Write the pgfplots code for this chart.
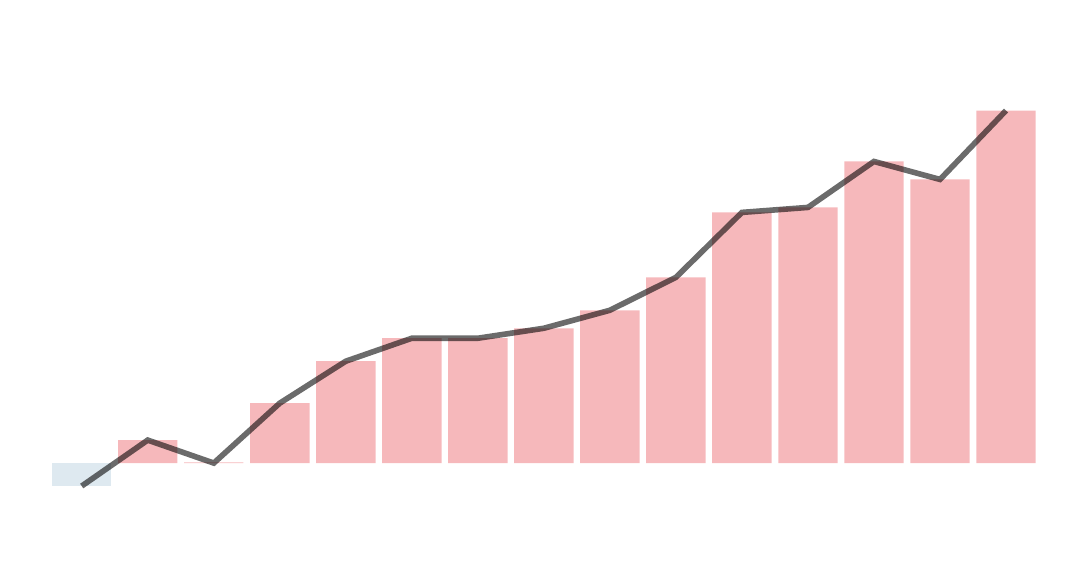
\documentclass[border=0pt]{standalone}
\usepackage{pgfplots}
\pgfplotsset{compat=1.18}
\definecolor{barpos}{HTML}{F6B8BB}
\definecolor{barneg}{HTML}{DEE9F0}
\begin{document}
\begin{tikzpicture}
\begin{axis}[
  scale only axis, width=10.8cm, height=5.8cm,
  xmin=-1.2273, xmax=15.11, ymin=-117, ymax=463,
  axis lines=none, ticks=none, clip=false,
]
\draw[white] (rel axis cs:0,0) rectangle (rel axis cs:1,1);
\addplot[ybar, bar width=0.9, fill=barneg, draw=none] coordinates {(0,-23)};
\addplot[ybar, bar width=0.9, fill=barpos, draw=none] coordinates {
(1,23) (2,0.6) (3,60) (4,102) (5,125) (6,125) (7,135) (8,153) (9,186) (10,251) (11,256) (12,302) (13,284) (14,353)};
\addplot[black, opacity=0.58, line width=1.6pt, mark=none] coordinates {
(0,-23) (1,23) (2,0) (3,60) (4,102) (5,125) (6,125) (7,135) (8,153) (9,186) (10,251) (11,256) (12,302) (13,284) (14,353)};
\end{axis}
\end{tikzpicture}
\end{document}
